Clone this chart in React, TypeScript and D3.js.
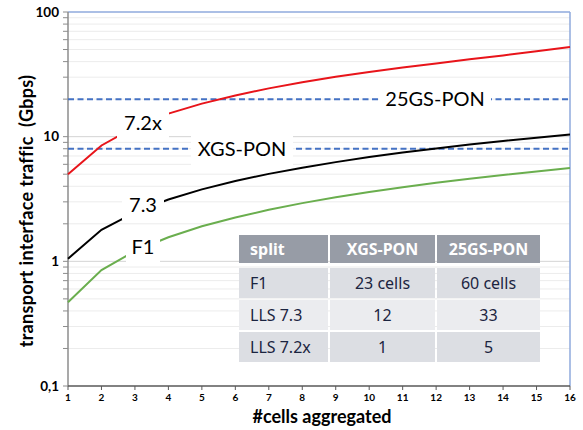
import { useMemo } from "react";
import * as d3 from "d3";

// #cells aggregated
const cells = [1, 2, 3, 4, 5, 6, 7, 8, 9, 10, 11, 12, 13, 14, 15, 16];
// traffic in Gbps
const lls72x = [5.0, 8.5, 12.0, 15.3, 18.4, 21.4, 24.4, 27.3, 30.2, 33.0, 35.8, 38.7, 41.7, 44.8, 48.4, 52.5];
const lls73 = [1.05, 1.79, 2.47, 3.13, 3.78, 4.41, 5.03, 5.64, 6.25, 6.86, 7.45, 8.05, 8.64, 9.22, 9.82, 10.4];
const f1 = [0.47, 0.85, 1.21, 1.56, 1.91, 2.25, 2.59, 2.93, 3.27, 3.6, 3.93, 4.27, 4.6, 4.92, 5.26, 5.6];
// PON capacities
const ponNames = ["XGS-PON", "25GS-PON"];
const ponRates = [8, 20];
const yTicks = [0.1, 1, 10, 100];
const yTickLabels = ["0,1", "1", "10", "100"];
// table
const tableHeader = ["split", "XGS-PON", "25GS-PON"];
const tableSplit = ["F1", "LLS 7.3", "LLS 7.2x"];
const tableXgs = ["23 cells", "12", "1"];
const table25gs = ["60 cells", "33", "5"];

const font = "Lato, 'DejaVu Sans', sans-serif";
const tfont = "'Noto Sans', 'Open Sans', sans-serif";

export default function App() {
  const W = 583;
  const H = 430;
  const x = useMemo(() => d3.scaleLinear().domain([1, 16]).range([68, 570]), []);
  const y = useMemo(() => d3.scaleLog().domain([0.1, 100]).range([386, 12]), []);

  const line = d3
    .line<number>()
    .x((d, i) => x(cells[i]))
    .y((d) => y(d));

  const minor: number[] = [];
  [0.1, 1, 10].forEach((dec) => {
    for (let k = 2; k <= 9; k++) minor.push(k * dec);
  });

  const series = [
    { vals: lls72x, color: "#e8141a" },
    { vals: lls73, color: "#000000" },
    { vals: f1, color: "#6aae4e" },
  ];

  // label boxes: [cx, cy, w, h, text]
  const labels: [number, number, number, number, string][] = [
    [143, 123, 52, 34, "7.2x"],
    [143, 205, 42, 30, "7.3"],
    [143, 247, 34, 30, "F1"],
    [242, y(ponRates[0]), 102, 34, ponNames[0]],
    [435, y(ponRates[1]), 112, 34, ponNames[1]],
  ];

  const colX = [239, 330, 437];
  const colW = [89, 105, 103];
  const rowY = [235, 268, 300, 332];
  const rowH = [28, 30, 30, 30];
  const rowFill = ["#979ca6", "#dcdee3", "#ebecef", "#dcdee3"];

  return (
    <svg width={W} height={H} style={{ position: "absolute", left: 0, top: 0 }}>
      <rect x={0} y={0} width={W} height={H} fill="#fff" />
      {/* grid */}
      {minor.map((v) => (
        <line key={"m" + v} x1={68} x2={570} y1={y(v)} y2={y(v)} stroke="#ececec" strokeWidth={1} />
      ))}
      {[1, 10].map((v) => (
        <line key={"M" + v} x1={68} x2={570} y1={y(v)} y2={y(v)} stroke="#d4d4d4" strokeWidth={1} />
      ))}
      {/* border top/right */}
      <line x1={68} x2={570} y1={12} y2={12} stroke="#8faadc" strokeWidth={1.5} />
      <line x1={570} x2={570} y1={12} y2={386} stroke="#8faadc" strokeWidth={1.5} />
      {/* y axis */}
      <line x1={68} x2={68} y1={12} y2={386} stroke="#8c8c8c" strokeWidth={1.5} />
      {minor.concat(yTicks).map((v) => (
        <line key={"t" + v} x1={63} x2={68} y1={y(v)} y2={y(v)} stroke="#8c8c8c" strokeWidth={1} />
      ))}
      {yTicks.map((v, i) => (
        <text key={"yl" + v} x={59} y={y(v)} dy="0.35em" textAnchor="end" fontFamily={font} fontWeight="bold" fontSize={13.5} fill="#000">
          {yTickLabels[i]}
        </text>
      ))}
      {/* x axis */}
      <line x1={68} x2={570} y1={386} y2={386} stroke="#595959" strokeWidth={1.5} />
      {cells.map((c) => (
        <g key={"x" + c}>
          <line x1={x(c)} x2={x(c)} y1={386} y2={390} stroke="#595959" strokeWidth={1} />
          <text x={x(c)} y={401} textAnchor="middle" fontFamily={font} fontWeight="bold" fontSize={10} fill="#000">
            {c}
          </text>
        </g>
      ))}
      <text x={322} y={423} textAnchor="middle" fontFamily={font} fontWeight="bold" fontSize={18} fill="#000">
        #cells aggregated
      </text>
      <text
        transform={`translate(33,211) rotate(-90)`}
        textAnchor="middle"
        fontFamily={font}
        fontWeight="bold"
        fontSize={18}
        letterSpacing={0.3}
        fill="#000"
        style={{ whiteSpace: "pre" }}
      >
        {"transport interface traffic  (Gbps)"}
      </text>
      {/* PON dashed lines */}
      {ponRates.map((r) => (
        <line key={"p" + r} x1={68} x2={570} y1={y(r)} y2={y(r)} stroke="#4472c4" strokeWidth={2} strokeDasharray="6,3.5" />
      ))}
      {/* series */}
      {series.map((s, i) => (
        <path key={"s" + i} d={line(s.vals) || ""} fill="none" stroke={s.color} strokeWidth={2} />
      ))}
      {/* labels */}
      {labels.map(([cx, cy, w, h, t]) => (
        <g key={t}>
          <rect x={cx - w / 2} y={cy - h / 2} width={w} height={h} fill="#fff" />
          <text x={cx} y={cy} dy="0.36em" textAnchor="middle" fontFamily={font} fontSize={20} fill="#000">
            {t}
          </text>
        </g>
      ))}
      {/* table */}
      {rowY.map((ry, r) => (
        <g key={"r" + r}>
          {colX.map((cx, c) => (
            <rect key={c} x={cx} y={ry} width={colW[c]} height={rowH[r]} fill={rowFill[r]} />
          ))}
        </g>
      ))}
      {tableHeader.map((t, c) => (
        <text
          key={"h" + t}
          x={c === 0 ? 250 : colX[c] + colW[c] / 2}
          y={rowY[0] + rowH[0] / 2}
          dy="0.35em"
          textAnchor={c === 0 ? "start" : "middle"}
          fontFamily={tfont}
          fontWeight="bold"
          fontSize={16}
          fill="#fff"
        >
          {t}
        </text>
      ))}
      {tableSplit.map((t, r) => (
        <g key={"tr" + r}>
          <text x={250} y={rowY[r + 1] + rowH[r + 1] / 2} dy="0.35em" fontFamily={tfont} fontSize={16} fill="#1b2440">
            {t}
          </text>
          <text x={colX[1] + colW[1] / 2} y={rowY[r + 1] + rowH[r + 1] / 2} dy="0.35em" textAnchor="middle" fontFamily={tfont} fontSize={16} fill="#1b2440">
            {tableXgs[r]}
          </text>
          <text x={colX[2] + colW[2] / 2} y={rowY[r + 1] + rowH[r + 1] / 2} dy="0.35em" textAnchor="middle" fontFamily={tfont} fontSize={16} fill="#1b2440">
            {table25gs[r]}
          </text>
        </g>
      ))}
    </svg>
  );
}
